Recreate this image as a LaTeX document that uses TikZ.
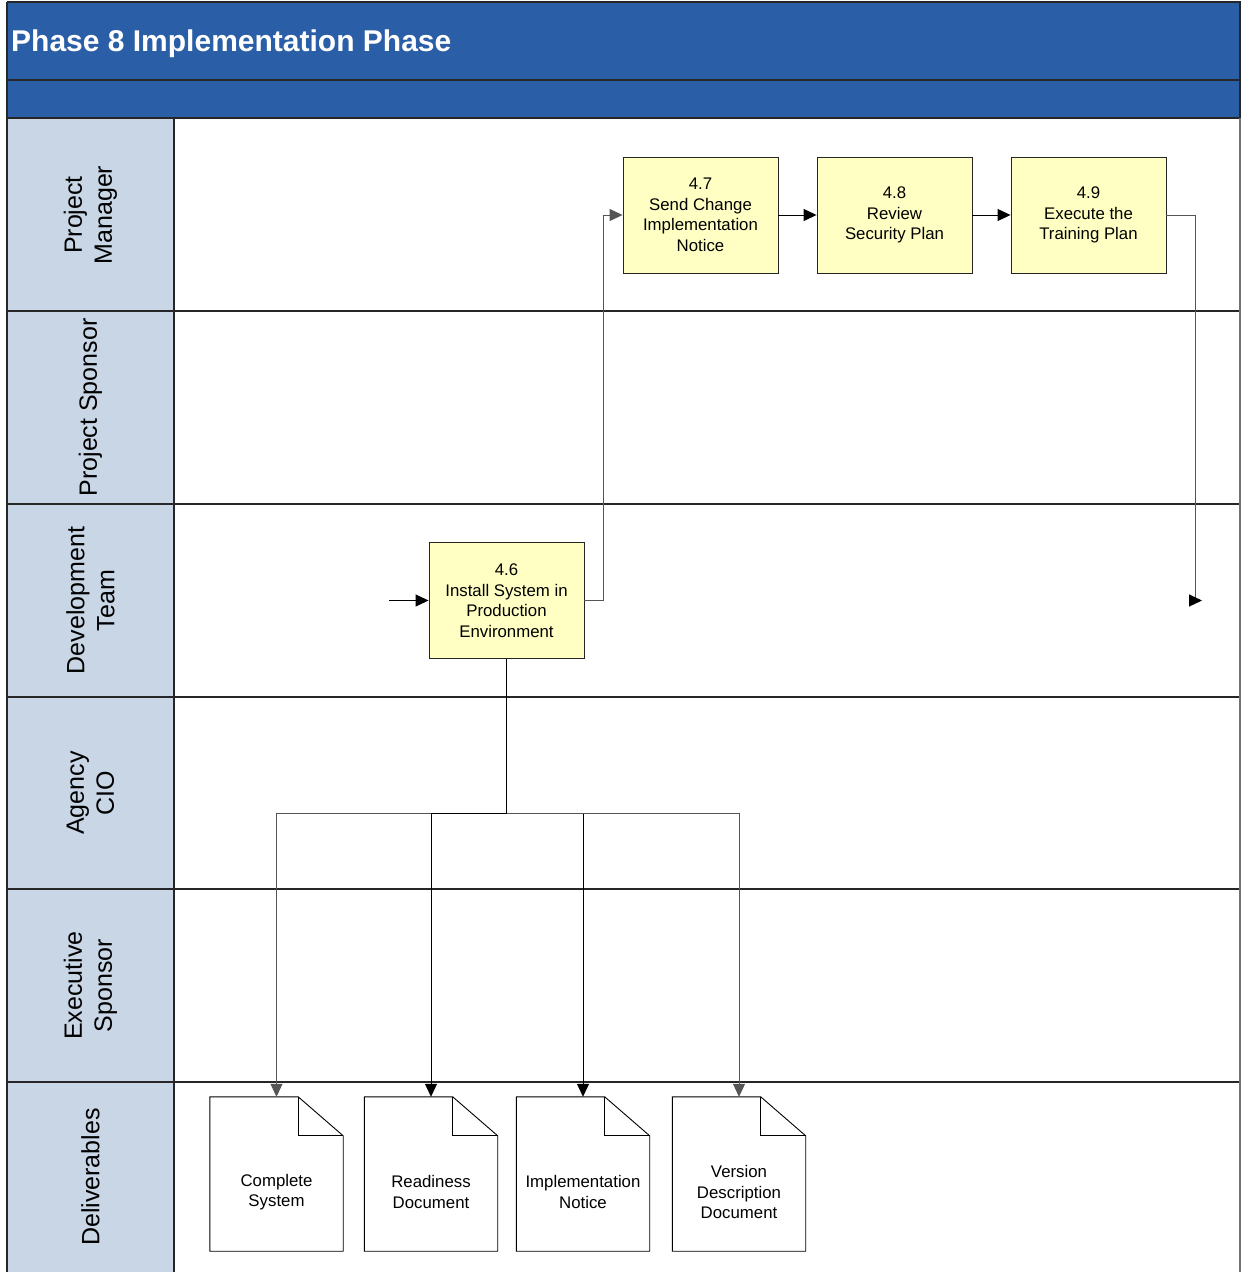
\documentclass[tikz,border=0pt]{standalone}
\usepackage{fontspec}
\setmainfont{Liberation Sans}
\usetikzlibrary{arrows.meta,calc}
\definecolor{hdrblue}{HTML}{2A5EA6}
\definecolor{lanefill}{HTML}{C9D6E6}
\definecolor{boxfill}{HTML}{FFFFC4}
\definecolor{linegray}{HTML}{555555}
\begin{document}
\begin{tikzpicture}[x=1pt,y=-1pt,
  stepbox/.style={draw=black!85, fill=boxfill, line width=0.9pt, minimum width=155pt, minimum height=116pt, inner sep=0pt, align=center, font=\fontsize{16.8}{20.5}\selectfont},
  lanelabel/.style={rotate=90, align=center, font=\fontsize{25}{30}\selectfont},
  docbox/.style={minimum width=133pt, minimum height=154pt, inner sep=0pt},
  doctext/.style={align=center, font=\fontsize{16.8}{20.5}\selectfont},
  flow/.style={line width=1pt, -{Triangle[length=13pt,width=12pt]}},
  link/.style={line width=1pt},
  sep/.style={line width=1.2pt, draw=black!85},
]
\useasboundingbox (0,0) rectangle (1241,1272);
% backgrounds
\fill[white] (0,0) rectangle (1241,1272);
\fill[lanefill] (7,118) rectangle (174,1272);
\fill[hdrblue] (7,2) rectangle (1241,118);
% grid lines
\draw[sep] (7,2) -- (1241,2);
\draw[sep] (7,80) -- (1241,80);
\draw[sep] (7,118) -- (1241,118);
\foreach \yy in {311,504,697,889,1082} \draw[sep] (7,\yy) -- (1241,\yy);
\draw[sep] (7,2) -- (7,1272);
\draw[sep] (174,118) -- (174,1272);
\draw[line width=1.2pt, draw=black!55] (1240,118) -- (1240,1272);
\draw[sep] (1240,2) -- (1240,118);
% title
\node[anchor=west, text=white, font=\fontsize{30}{36}\selectfont\bfseries, inner sep=0pt] (title) at (11,44) {Phase 8 Implementation Phase};
% lane labels
\node[lanelabel] (lpm) at (90.5,215) {Project\\Manager};
\node[lanelabel] (lps) at (90.5,407.5) {Project Sponsor};
\node[lanelabel] (ldt) at (90.5,600.5) {Development\\Team};
\node[lanelabel] (lcio) at (90.5,793) {Agency\\CIO};
\node[lanelabel] (les) at (90.5,985.5) {Executive\\Sponsor};
\node[lanelabel] (ldel) at (90.5,1177) {Deliverables};
% process boxes
\node[stepbox] (b46) at (506.5,600.5) {4.6\\Install System in\\Production\\Environment};
\node[stepbox] (b47) at (700.5,215) {4.7\\Send Change\\Implementation\\Notice};
\node[stepbox] (b48) at (894.5,215) {4.8\\Review\\Security Plan};
\node[stepbox] (b49) at (1088.5,215) {4.9\\Execute the\\Training Plan};
% documents
\foreach \n/\xx in {d1/276.5,d2/431,d3/583,d4/739}{
  \node[docbox] (\n) at (\xx,1174) {};
  \draw[line width=0.9pt, fill=white] (\n.south west) -- (\n.north west) -- ($(\n.north east)+(-45,0)$) -- ($(\n.north east)+(0,39)$) -- (\n.south east) -- cycle;
  \draw[line width=0.9pt] ($(\n.north east)+(-45,0)$) -- ($(\n.north east)+(-45,39)$) -- ($(\n.north east)+(0,39)$);
}
\node[doctext] (t1) at ($(d1.center)+(0,18)$) {Complete\\System};
\node[doctext] (t2) at ($(d2.center)+(0,18)$) {Readiness\\Document};
\node[doctext] (t3) at ($(d3.center)+(0,18)$) {Implementation\\Notice};
\node[doctext] (t4) at ($(d4.center)+(0,18)$) {Version\\Description\\Document};
% connectors
\coordinate (in46) at (389,600.5);
\draw[flow] (in46) -- (b46.west);
\coordinate (m4647) at ($(b46.east)!0.5!(b47.west)$);
\draw[flow, draw=linegray] (b46.east) -| (m4647) |- (b47.west);
\draw[flow] (b47.east) -- (b48.west);
\draw[flow] (b48.east) -- (b49.west);
\coordinate (c49) at (1195,600.5);
\coordinate (e49) at (1202,600.5);
\draw[link, draw=linegray] (b49.east) -| (c49);
\draw[flow] ($(c49)+(-1,0)$) -- (e49);
\coordinate (br) at (506.5,813);
\draw[link] (b46.south) -- (br);
\draw[flow, draw=linegray] (br) -| (d1.north);
\draw[flow] (br) -| (d2.north);
\draw[flow] (br) -| (d3.north);
\draw[flow, draw=linegray] (br) -| (d4.north);
\end{tikzpicture}
\end{document}
